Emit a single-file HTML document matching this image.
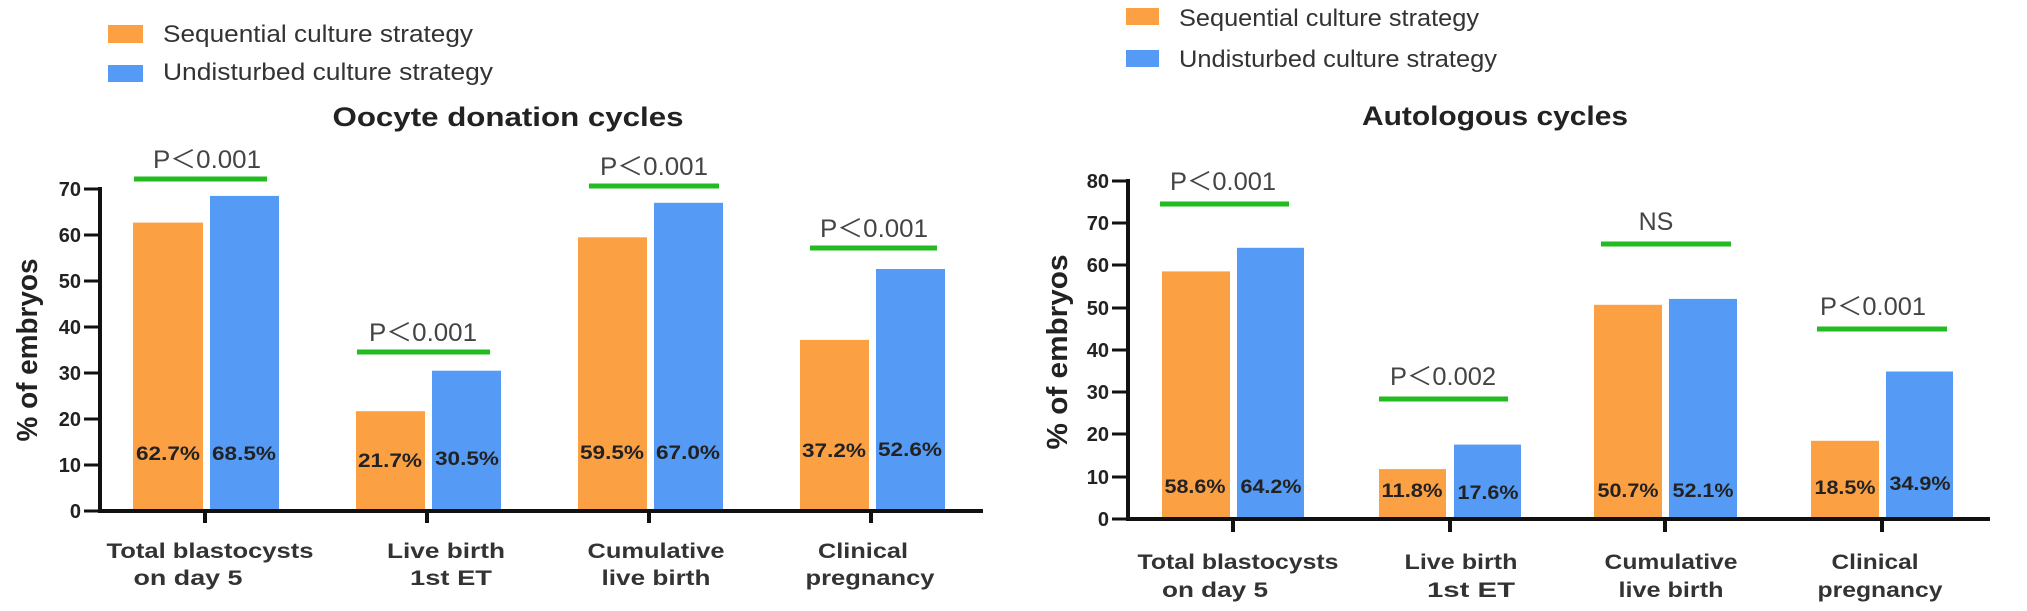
<!DOCTYPE html>
<html><head><meta charset="utf-8"><style>
html,body{margin:0;padding:0;background:#fff;}
svg{display:block;}
text{font-family:"Liberation Sans",Arial,sans-serif;}
.leg{font-size:24px;fill:#333;}
.ttl{font-size:27px;font-weight:bold;fill:#222;}
.tick{font-size:20px;font-weight:bold;fill:#222;text-anchor:end;}
.p{font-size:25px;fill:#444;text-anchor:middle;}
.pct{font-size:19px;font-weight:bold;fill:#222;text-anchor:middle;}
.cat{font-size:21px;font-weight:bold;fill:#333;text-anchor:middle;}
.yl{font-size:29px;font-weight:bold;fill:#222;text-anchor:middle;}
</style></head><body>
<svg width="2027" height="611" viewBox="0 0 2027 611" xmlns="http://www.w3.org/2000/svg">
<!-- LEFT CHART -->
<rect x="108" y="25" width="35" height="18" fill="#FCA044"/>
<rect x="108" y="65" width="35" height="17" fill="#559BF5"/>
<text class="leg" x="163" y="42" textLength="310" lengthAdjust="spacingAndGlyphs">Sequential culture strategy</text>
<text class="leg" x="163" y="80" textLength="330" lengthAdjust="spacingAndGlyphs">Undisturbed culture strategy</text>
<text class="ttl" x="508" y="126" text-anchor="middle" textLength="351" lengthAdjust="spacingAndGlyphs">Oocyte donation cycles</text>
<text class="yl" transform="translate(37,350) rotate(-90)" textLength="183" lengthAdjust="spacingAndGlyphs">% of embryos</text>
<g>
<text class="tick" x="81" y="518">0</text>
<text class="tick" x="81" y="472">10</text>
<text class="tick" x="81" y="426">20</text>
<text class="tick" x="81" y="380">30</text>
<text class="tick" x="81" y="334">40</text>
<text class="tick" x="81" y="288">50</text>
<text class="tick" x="81" y="242">60</text>
<text class="tick" x="81" y="196">70</text>
<g stroke="#111" stroke-width="3">
<line x1="84" y1="511" x2="100" y2="511"/><line x1="84" y1="465" x2="100" y2="465"/>
<line x1="84" y1="419" x2="100" y2="419"/><line x1="84" y1="373" x2="100" y2="373"/>
<line x1="84" y1="327" x2="100" y2="327"/><line x1="84" y1="281" x2="100" y2="281"/>
<line x1="84" y1="235" x2="100" y2="235"/><line x1="84" y1="189" x2="100" y2="189"/>
</g>
</g>
<rect x="133" y="222.6" width="70" height="288.4" fill="#FCA044"/>
<rect x="210" y="195.9" width="69" height="315.1" fill="#559BF5"/>
<rect x="356" y="411.2" width="69" height="99.8" fill="#FCA044"/>
<rect x="432" y="370.7" width="69" height="140.3" fill="#559BF5"/>
<rect x="578" y="237.3" width="69" height="273.7" fill="#FCA044"/>
<rect x="654" y="202.8" width="69" height="308.2" fill="#559BF5"/>
<rect x="800" y="339.9" width="69" height="171.1" fill="#FCA044"/>
<rect x="876" y="269.0" width="69" height="242.0" fill="#559BF5"/>
<g stroke="#111" stroke-width="4">
<line x1="100" y1="187" x2="100" y2="513"/>
<line x1="98" y1="511" x2="983" y2="511"/>
<line x1="205" y1="511" x2="205" y2="523"/><line x1="427" y1="511" x2="427" y2="523"/>
<line x1="649" y1="511" x2="649" y2="523"/><line x1="871" y1="511" x2="871" y2="523"/>
</g>
<text class="pct" x="168" y="460" textLength="64" lengthAdjust="spacingAndGlyphs">62.7%</text>
<text class="pct" x="244" y="460" textLength="64" lengthAdjust="spacingAndGlyphs">68.5%</text>
<text class="pct" x="390" y="467" textLength="64" lengthAdjust="spacingAndGlyphs">21.7%</text>
<text class="pct" x="467" y="465" textLength="64" lengthAdjust="spacingAndGlyphs">30.5%</text>
<text class="pct" x="612" y="459" textLength="64" lengthAdjust="spacingAndGlyphs">59.5%</text>
<text class="pct" x="688" y="459" textLength="64" lengthAdjust="spacingAndGlyphs">67.0%</text>
<text class="pct" x="834" y="457" textLength="64" lengthAdjust="spacingAndGlyphs">37.2%</text>
<text class="pct" x="910" y="456" textLength="64" lengthAdjust="spacingAndGlyphs">52.6%</text>
<g stroke="#22BB22" stroke-width="5">
<line x1="134" y1="179" x2="267" y2="179"/>
<line x1="357" y1="352" x2="490" y2="352"/>
<line x1="589" y1="186" x2="719" y2="186"/>
<line x1="810" y1="248" x2="937" y2="248"/>
</g>
<text class="p" x="207" y="168" textLength="108" lengthAdjust="spacingAndGlyphs">P＜0.001</text>
<text class="p" x="423" y="341" textLength="108" lengthAdjust="spacingAndGlyphs">P＜0.001</text>
<text class="p" x="654" y="175" textLength="108" lengthAdjust="spacingAndGlyphs">P＜0.001</text>
<text class="p" x="874" y="237" textLength="108" lengthAdjust="spacingAndGlyphs">P＜0.001</text>
<text class="cat" x="210" y="558" textLength="207" lengthAdjust="spacingAndGlyphs">Total blastocysts</text>
<text class="cat" x="188" y="585" textLength="109" lengthAdjust="spacingAndGlyphs">on day 5</text>
<text class="cat" x="446" y="558" textLength="118" lengthAdjust="spacingAndGlyphs">Live birth</text>
<text class="cat" x="451" y="585" textLength="82" lengthAdjust="spacingAndGlyphs">1st ET</text>
<text class="cat" x="656" y="558" textLength="137" lengthAdjust="spacingAndGlyphs">Cumulative</text>
<text class="cat" x="656" y="585" textLength="109" lengthAdjust="spacingAndGlyphs">live birth</text>
<text class="cat" x="863" y="558" textLength="90" lengthAdjust="spacingAndGlyphs">Clinical</text>
<text class="cat" x="870" y="585" textLength="129" lengthAdjust="spacingAndGlyphs">pregnancy</text>

<!-- RIGHT CHART -->
<rect x="1126" y="8" width="33" height="17" fill="#FCA044"/>
<rect x="1126" y="50" width="33" height="17" fill="#559BF5"/>
<text class="leg" x="1179" y="26" textLength="300" lengthAdjust="spacingAndGlyphs">Sequential culture strategy</text>
<text class="leg" x="1179" y="67" textLength="318" lengthAdjust="spacingAndGlyphs">Undisturbed culture strategy</text>
<text class="ttl" x="1495" y="125" text-anchor="middle" textLength="266" lengthAdjust="spacingAndGlyphs">Autologous cycles</text>
<text class="yl" transform="translate(1067,352) rotate(-90)" textLength="195" lengthAdjust="spacingAndGlyphs">% of embryos</text>
<g>
<text class="tick" x="1109" y="526">0</text>
<text class="tick" x="1109" y="484">10</text>
<text class="tick" x="1109" y="441">20</text>
<text class="tick" x="1109" y="399">30</text>
<text class="tick" x="1109" y="357">40</text>
<text class="tick" x="1109" y="315">50</text>
<text class="tick" x="1109" y="272">60</text>
<text class="tick" x="1109" y="230">70</text>
<text class="tick" x="1109" y="188">80</text>
<g stroke="#111" stroke-width="3">
<line x1="1112" y1="519" x2="1128" y2="519"/><line x1="1112" y1="477" x2="1128" y2="477"/>
<line x1="1112" y1="434" x2="1128" y2="434"/><line x1="1112" y1="392" x2="1128" y2="392"/>
<line x1="1112" y1="350" x2="1128" y2="350"/><line x1="1112" y1="308" x2="1128" y2="308"/>
<line x1="1112" y1="265" x2="1128" y2="265"/><line x1="1112" y1="223" x2="1128" y2="223"/>
<line x1="1112" y1="181" x2="1128" y2="181"/>
</g>
</g>
<rect x="1162" y="271.4" width="68" height="247.6" fill="#FCA044"/>
<rect x="1237" y="247.8" width="67" height="271.2" fill="#559BF5"/>
<rect x="1379" y="469.1" width="67" height="49.9" fill="#FCA044"/>
<rect x="1454" y="444.6" width="67" height="74.4" fill="#559BF5"/>
<rect x="1594" y="304.8" width="68" height="214.2" fill="#FCA044"/>
<rect x="1669" y="298.9" width="68" height="220.1" fill="#559BF5"/>
<rect x="1811" y="440.8" width="68" height="78.2" fill="#FCA044"/>
<rect x="1886" y="371.5" width="67" height="147.5" fill="#559BF5"/>
<g stroke="#111" stroke-width="4">
<line x1="1128" y1="179" x2="1128" y2="521"/>
<line x1="1126" y1="519" x2="1990" y2="519"/>
<line x1="1233" y1="519" x2="1233" y2="532"/><line x1="1450" y1="519" x2="1450" y2="532"/>
<line x1="1665" y1="519" x2="1665" y2="532"/><line x1="1882" y1="519" x2="1882" y2="532"/>
</g>
<text class="pct" x="1195" y="493" textLength="61" lengthAdjust="spacingAndGlyphs">58.6%</text>
<text class="pct" x="1271" y="493" textLength="61" lengthAdjust="spacingAndGlyphs">64.2%</text>
<text class="pct" x="1412" y="497" textLength="61" lengthAdjust="spacingAndGlyphs">11.8%</text>
<text class="pct" x="1488" y="499" textLength="61" lengthAdjust="spacingAndGlyphs">17.6%</text>
<text class="pct" x="1628" y="497" textLength="61" lengthAdjust="spacingAndGlyphs">50.7%</text>
<text class="pct" x="1703" y="497" textLength="61" lengthAdjust="spacingAndGlyphs">52.1%</text>
<text class="pct" x="1845" y="494" textLength="61" lengthAdjust="spacingAndGlyphs">18.5%</text>
<text class="pct" x="1920" y="490" textLength="61" lengthAdjust="spacingAndGlyphs">34.9%</text>
<g stroke="#22BB22" stroke-width="5">
<line x1="1160" y1="204" x2="1289" y2="204"/>
<line x1="1379" y1="399" x2="1508" y2="399"/>
<line x1="1601" y1="244" x2="1731" y2="244"/>
<line x1="1817" y1="329" x2="1947" y2="329"/>
</g>
<text class="p" x="1223" y="190" textLength="106" lengthAdjust="spacingAndGlyphs">P＜0.001</text>
<text class="p" x="1443" y="385" textLength="106" lengthAdjust="spacingAndGlyphs">P＜0.002</text>
<text class="p" x="1656" y="230">NS</text>
<text class="p" x="1873" y="315" textLength="106" lengthAdjust="spacingAndGlyphs">P＜0.001</text>
<text class="cat" x="1238" y="569" textLength="201" lengthAdjust="spacingAndGlyphs">Total blastocysts</text>
<text class="cat" x="1215" y="597" textLength="106" lengthAdjust="spacingAndGlyphs">on day 5</text>
<text class="cat" x="1461" y="569" textLength="113" lengthAdjust="spacingAndGlyphs">Live birth</text>
<text class="cat" x="1471" y="597" textLength="88" lengthAdjust="spacingAndGlyphs">1st ET</text>
<text class="cat" x="1671" y="569" textLength="133" lengthAdjust="spacingAndGlyphs">Cumulative</text>
<text class="cat" x="1671" y="597" textLength="105" lengthAdjust="spacingAndGlyphs">live birth</text>
<text class="cat" x="1875" y="569" textLength="87" lengthAdjust="spacingAndGlyphs">Clinical</text>
<text class="cat" x="1880" y="597" textLength="125" lengthAdjust="spacingAndGlyphs">pregnancy</text>
</svg>
</body></html>
